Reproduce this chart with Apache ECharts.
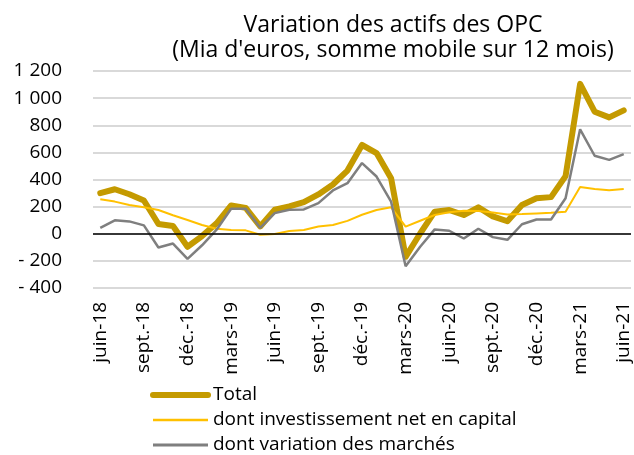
<!DOCTYPE html>
<html>
<head>
<meta charset="utf-8">
<script src="https://cdn.jsdelivr.net/npm/echarts@6/dist/echarts.min.js"></script>
<style>
html,body{margin:0;padding:0;background:#fff;}
#chart{width:634px;height:455px;}
</style>
</head>
<body>
<div id="chart"></div>
<script>
var categories = [
  'juin-18','juil.-18','août-18','sept.-18','oct.-18','nov.-18','déc.-18',
  'janv.-19','févr.-19','mars-19','avr.-19','mai-19','juin-19','juil.-19','août-19','sept.-19','oct.-19','nov.-19','déc.-19',
  'janv.-20','févr.-20','mars-20','avr.-20','mai-20','juin-20','juil.-20','août-20','sept.-20','oct.-20','nov.-20','déc.-20',
  'janv.-21','févr.-21','mars-21','avr.-21','mai-21','juin-21'
];
var total = [299, 328, 291, 245, 72, 57, -96, -17, 77, 209, 191, 54, 177, 201, 233, 290, 363, 466, 655, 595, 410, -170, 2, 163, 175, 138, 195, 128, 92, 212, 262, 270, 425, 1105, 900, 858, 910];
var capital = [254, 237, 212, 195, 175, 136, 101, 64, 37, 27, 25, -7, -2, 20, 27, 54, 64, 95, 140, 175, 195, 52, 96, 138, 158, 170, 168, 157, 142, 145, 150, 155, 162, 345, 330, 320, 330];
var marches = [44, 99, 91, 62, -101, -72, -185, -85, 30, 184, 184, 44, 152, 177, 179, 226, 319, 373, 521, 422, 237, -240, -96, 32, 22, -35, 37, -25, -45, 70, 105, 105, 262, 770, 575, 545, 587];
var seriesNames = ['Total', 'dont investissement net en capital', 'dont variation des marchés'];
var titleText = "Variation des actifs des OPC\n(Mia d'euros, somme mobile sur 12 mois)";

var FONT = 'Open Sans';
var chart = echarts.init(document.getElementById('chart'), null, {renderer: 'canvas'});
chart.setOption({
  animation: false,
  backgroundColor: '#fff',
  title: {
    text: titleText,
    left: 388,
    top: 8,
    textAlign: 'center',
    textStyle: {fontFamily: FONT, fontSize: 23, fontWeight: 'normal', color: '#000', lineHeight: 25}
  },
  legend: {
    orient: 'vertical',
    left: 150,
    top: 385,
    height: 75,
    padding: 0,
    itemWidth: 55,
    itemHeight: 14,
    itemGap: 5,
    data: [
      {name: seriesNames[0], lineStyle: {width: 6, cap: 'round'}},
      {name: seriesNames[1], lineStyle: {width: 2.5}},
      {name: seriesNames[2], lineStyle: {width: 3}}
    ],
    itemStyle: {opacity: 0},
    textStyle: {fontFamily: FONT, fontSize: 19, color: '#000', lineHeight: 20}
  },
  grid: {left: 93, right: 3, top: 71, bottom: 167, containLabel: false},
  xAxis: {
    type: 'category',
    data: categories,
    boundaryGap: true,
    axisLine: {show: false},
    axisTick: {show: false},
    axisLabel: {
      interval: 2,
      rotate: 90,
      margin: 14,
      fontFamily: FONT, fontSize: 19, color: '#000'
    }
  },
  yAxis: {
    type: 'value',
    min: -400, max: 1200, interval: 200,
    axisLine: {show: false},
    axisTick: {show: false},
    splitLine: {lineStyle: {color: '#d9d9d9', width: 2}},
    axisLabel: {
      margin: 31,
      fontFamily: FONT, fontSize: 19, color: '#000',
      formatter: function (v) {
        var a = Math.abs(v);
        var s = a >= 1000 ? Math.floor(a / 1000) + ' ' + String(a % 1000).padStart(3, '0') : String(a);
        return v < 0 ? '- ' + s : s;
      }
    }
  },
  series: [
    {
      name: seriesNames[0], type: 'line', data: total, symbol: 'none',
      lineStyle: {color: '#C49A00', width: 6, join: 'round', cap: 'round'},
      itemStyle: {color: '#C49A00'},
      markLine: {
        silent: true, symbol: 'none', label: {show: false},
        lineStyle: {color: '#000', width: 1.5, type: 'solid'},
        data: [{yAxis: 0}]
      },
      z: 2
    },
    {
      name: seriesNames[1], type: 'line', data: capital, symbol: 'none',
      lineStyle: {color: '#FFC000', width: 2},
      itemStyle: {color: '#FFC000'},
      z: 3
    },
    {
      name: seriesNames[2], type: 'line', data: marches, symbol: 'none',
      lineStyle: {color: '#7F7F7F', width: 2.5},
      itemStyle: {color: '#7F7F7F'},
      z: 4
    }
  ]
});
</script>
</body>
</html>
